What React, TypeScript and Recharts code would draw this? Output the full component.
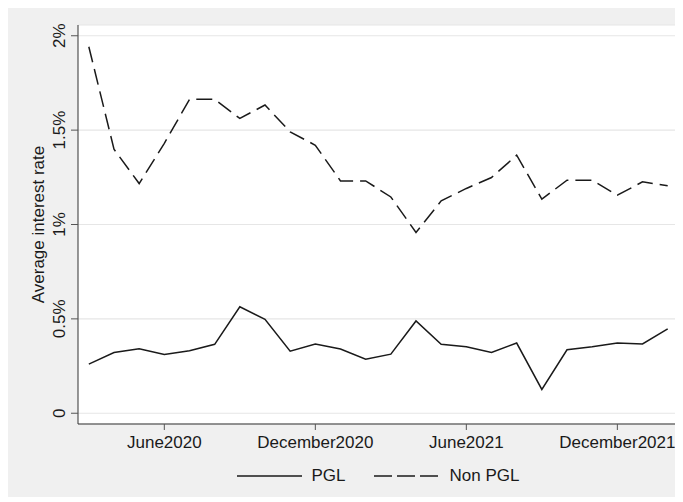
import React from "react";
import { LineChart, Line, XAxis, YAxis, CartesianGrid, Legend } from "recharts";

const months = [
  "March2020", "April2020", "May2020", "June2020", "July2020", "August2020",
  "September2020", "October2020", "November2020", "December2020", "January2021", "February2021",
  "March2021", "April2021", "May2021", "June2021", "July2021", "August2021",
  "September2021", "October2021", "November2021", "December2021", "January2022", "February2022",
];

const pglRate = [
  0.26, 0.322, 0.342, 0.311, 0.331, 0.365, 0.564, 0.498, 0.329, 0.367, 0.34, 0.286,
  0.313, 0.489, 0.365, 0.352, 0.322, 0.372, 0.126, 0.336, 0.352, 0.372, 0.367, 0.447,
];

const nonPglRate = [
  1.942, 1.399, 1.217, 1.43, 1.663, 1.663, 1.562, 1.633, 1.491, 1.42, 1.231, 1.231,
  1.146, 0.958, 1.125, 1.191, 1.249, 1.367, 1.134, 1.235, 1.235, 1.155, 1.226, 1.205,
];

const xTickLabels = ["June2020", "December2020", "June2021", "December2021"];
const yTicks = [0, 0.5, 1, 1.5, 2];

const data = months.map((m, i) => ({ i, month: m, pgl: pglRate[i], nonPgl: nonPglRate[i] }));
const xTicks = xTickLabels.map((l) => months.indexOf(l));

const FONT = "'Liberation Sans', Arial, sans-serif";
const INK = "#1a1a1a";

function YTick({ x, y, payload }: any) {
  const v = payload.value;
  return (
    <g transform={`translate(${x},${y}) rotate(-90)`}>
      <text x={0} y={0} textAnchor="middle" fontSize={17} fill={INK} fontFamily={FONT}>
        {v === 0 ? "0" : `${v}%`}
      </text>
    </g>
  );
}

function XTick({ x, y, payload }: any) {
  return (
    <text x={x} y={y + 18} textAnchor="middle" fontSize={17} fill={INK} fontFamily={FONT}>
      {months[payload.value]}
    </text>
  );
}

function YTitle({ viewBox }: any) {
  const cx = viewBox.x + 35.5;
  const cy = viewBox.y + viewBox.height / 2;
  return (
    <text
      x={cx}
      y={cy}
      transform={`rotate(-90, ${cx}, ${cy})`}
      textAnchor="middle"
      fontSize={17}
      fill={INK}
      fontFamily={FONT}
    >
      Average interest rate
    </text>
  );
}

function LegendContent() {
  return (
    <div
      style={{
        display: "flex",
        justifyContent: "center",
        alignItems: "center",
        fontFamily: FONT,
        fontSize: 17,
        color: INK,
      }}
    >
      <svg width={65} height={4}>
        <line x1={0} y1={2} x2={65} y2={2} stroke={INK} strokeWidth={1.5} />
      </svg>
      <span style={{ marginLeft: 10, marginRight: 28 }}>PGL</span>
      <svg width={64} height={4}>
        <line x1={0} y1={2} x2={64} y2={2} stroke={INK} strokeWidth={1.5} strokeDasharray="18 5" />
      </svg>
      <span style={{ marginLeft: 12 }}>Non PGL</span>
    </div>
  );
}

export default function App() {
  return (
    <div style={{ width: 672, height: 489, background: "#f0f0f0", fontFamily: FONT }}>
      <LineChart width={672} height={489} data={data} margin={{ top: 17, right: 2, bottom: 43, left: 0 }}>
        <CartesianGrid vertical={false} fill="#ffffff" stroke="#e6e6e6" strokeWidth={1.2} />
        <XAxis
          dataKey="i"
          type="number"
          domain={[-0.43, 23.41]}
          ticks={xTicks}
          height={30}
          tickSize={6}
          tickMargin={0}
          axisLine={{ stroke: "#333" }}
          tickLine={{ stroke: "#555" }}
          tick={<XTick />}
          allowDataOverflow
        />
        <YAxis
          type="number"
          domain={[-0.057, 2.057]}
          ticks={yTicks}
          width={70}
          tickSize={7}
          tickMargin={6}
          axisLine={{ stroke: "#333" }}
          tickLine={{ stroke: "#555" }}
          tick={<YTick />}
          label={<YTitle />}
          allowDataOverflow
        />
        <Legend
          layout="horizontal"
          verticalAlign="middle"
          align="center"
          content={<LegendContent />}
          wrapperStyle={{ top: 458, left: 70, width: 600 }}
        />
        <Line
          dataKey="pgl"
          name="PGL"
          type="linear"
          stroke={INK}
          strokeWidth={1.5}
          dot={false}
          isAnimationActive={false}
        />
        <Line
          dataKey="nonPgl"
          name="Non PGL"
          type="linear"
          stroke={INK}
          strokeWidth={1.5}
          strokeDasharray="16 7"
          dot={false}
          isAnimationActive={false}
        />
      </LineChart>
    </div>
  );
}
